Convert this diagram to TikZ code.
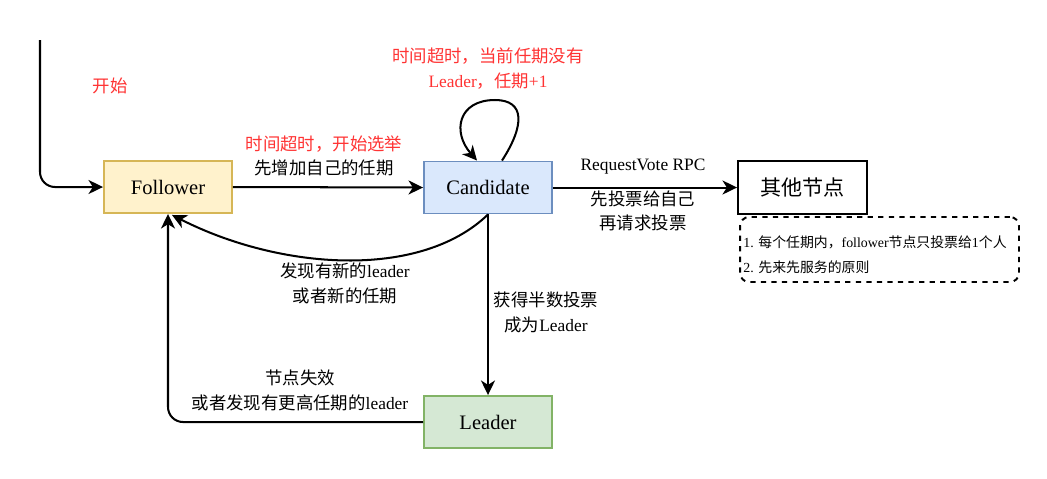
\documentclass[tikz,border=0pt]{standalone}
\usepackage{fontspec}
\setmainfont{Liberation Serif}
\newfontfamily\cjk{Noto Sans CJK SC}
\usetikzlibrary{arrows.meta,calc}
\definecolor{redtxt}{HTML}{FF3333}
\definecolor{folfill}{HTML}{FFF2CC}\definecolor{foldraw}{HTML}{D6B656}
\definecolor{canfill}{HTML}{DAE8FC}\definecolor{candraw}{HTML}{6C8EBF}
\definecolor{leafill}{HTML}{D5E8D4}\definecolor{leadraw}{HTML}{82B366}
\begin{document}
\begin{tikzpicture}[x=0.02cm,y=-0.02cm,
  statebox/.style={draw, line width=1.1pt, minimum width=2.56cm, minimum height=1.04cm, inner sep=0pt, font=\fontsize{11.7}{14}\selectfont},
  conn/.style={line width=1.15pt, -{Stealth[length=8.3pt,width=8pt,inset=2.5pt]}},
  lbl/.style={inner sep=0pt, font=\fontsize{9.9}{12}\selectfont},
  redlbl/.style={lbl, text=redtxt},
  notelbl/.style={inner sep=0pt, anchor=west, font=\fontsize{7.9}{10}\selectfont}]
\useasboundingbox (0,0) rectangle (1047,478);
% nodes
\node[statebox, fill=folfill, draw=foldraw] (fol) at (168,187) {Follower};
\node[statebox, fill=canfill, draw=candraw] (can) at (488,187.5) {Candidate};
\node[statebox, fill=leafill, draw=leadraw] (lea) at (488,422) {Leader};
\node[statebox, draw=black, fill=white, minimum width=2.58cm, minimum height=1.06cm, font=\fontsize{12}{14}\selectfont] (oth) at (802.5,187.5) {\cjk 其他节点};
\node[draw, dashed, line width=1.1pt, rounded corners=0.18cm, minimum width=5.58cm, minimum height=1.3cm, inner sep=0pt] (note) at (879.5,249.5) {};
\node[notelbl] (n1) at (743,242) {1. {\cjk 每个任期内，}follower{\cjk 节点只投票给}1{\cjk 个人}};
\node[notelbl] (n2) at (743,267) {2. {\cjk 先来先服务的原则}};
% start
\coordinate (st) at (40,40);
\draw[conn, rounded corners=0.3cm] (st) |- (fol.west);
\node[redlbl] (lstart) at (110,86) {\cjk 开始};
% follower -> candidate
\draw[conn] (fol.east) -- (can.west);
\node[redlbl] (l1a) at (324,144) {\cjk 时间超时，开始选举};
\node[lbl] (l1b) at (324,168) {\cjk 先增加自己的任期};
% self loop
\draw[conn] ($(can.north)+(14,0)$) .. controls (525,125) and (525,100) .. (495,100) .. controls (458,100) and (452,132) .. ($(can.north)+(-11,0)$);
\node[redlbl] (l2a) at (488,56) {\cjk 时间超时，当前任期没有};
\node[redlbl] (l2b) at (488,81) {Leader{\cjk ，任期}+1};
% candidate -> other
\draw[conn] (can.east) -- (oth.west);
\node[lbl] (l3a) at (643,167) {RequestVote RPC};
\node[lbl] (l3b) at (643,199) {\cjk 先投票给自己};
\node[lbl] (l3c) at (643,223) {\cjk 再请求投票};
% candidate -> follower
\draw[conn] (can.south) .. controls (420,280) and (280,270) .. ($(fol.south)+(4,1)$);
\node[lbl] (l4a) at (345,271) {{\cjk 发现有新的}leader};
\node[lbl] (l4b) at (345,296) {\cjk 或者新的任期};
% candidate -> leader
\draw[conn] (can.south) -- (lea.north);
\node[lbl] (l5a) at (546,300) {\cjk 获得半数投票};
\node[lbl] (l5b) at (546,325) {{\cjk 成为}Leader};
% leader -> follower
\draw[conn, rounded corners=0.3cm] (lea.west) -| (fol.south);
\node[lbl] (l6a) at (300,378) {\cjk 节点失效};
\node[lbl] (l6b) at (300,403) {{\cjk 或者发现有更高任期的}leader};
\end{tikzpicture}
\end{document}
